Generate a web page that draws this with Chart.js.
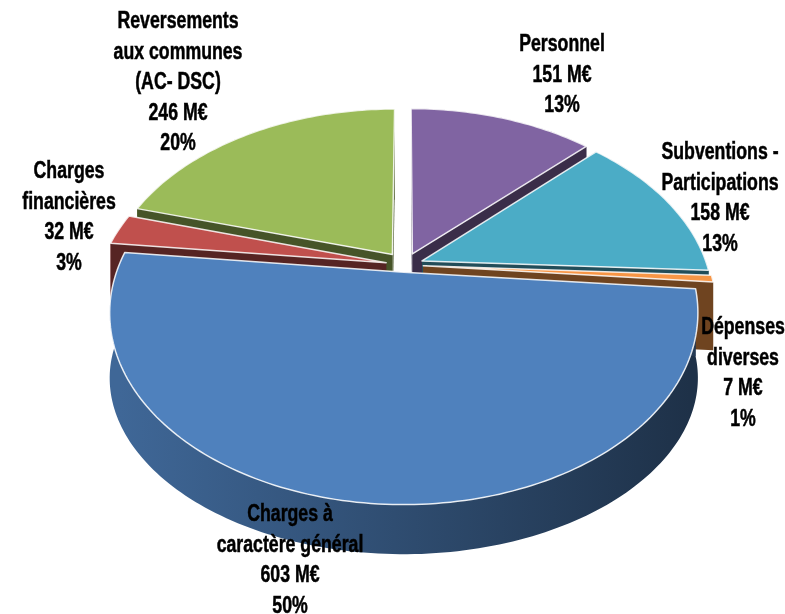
<!DOCTYPE html>
<html>
<head>
<meta charset="utf-8">
<script src="https://cdn.jsdelivr.net/npm/chart.js@4"></script>
<style>
  html, body { margin: 0; background: #fff; }
  #wrap { width: 785px; height: 614px; }
</style>
</head>
<body>
<div id="wrap"><canvas id="pie" width="785" height="614"></canvas></div>
<script>
// data (clockwise from the top)
const categories = [['Personnel'], ['Subventions -', 'Participations'], ['Dépenses', 'diverses'],
  ['Charges à', 'caractère général'], ['Charges', 'financières'], ['Reversements', 'aux communes', '(AC- DSC)']];
const amounts = [151, 158, 7, 603, 32, 246];
const percents = [13, 13, 1, 50, 3, 20];

const colors = ['#8064A2', '#4BACC6', '#F79646', '#4F81BD', '#C0504D', '#9BBB59'];
const explode = [20, 19, 19, 12, 20, 22];
// centre of the first line of each label
const labelAnchors = [[562, 45], [720, 153], [743, 328], [290, 515], [69, 172], [178, 22]];
const lineHeight = 30.5;

// tilted view of the pie (perspective); the side gets thinner towards the front
const view = { cx: 405, cy: 265, a: 285, b: 180, k: 0.21, h: 70, c: 0.28 };

function project(x, z, down) {
  const w = 1 - view.k * z;
  const drop = down ? view.h * (1 - view.c * z) : 0;
  return [view.cx + view.a * x / w, view.cy + view.b * z / w + drop];
}

function shade(hex, f) {
  const n = parseInt(hex.slice(1), 16);
  const r = Math.round(((n >> 16) & 255) * f);
  const g = Math.round(((n >> 8) & 255) * f);
  const b = Math.round((n & 255) * f);
  return `rgb(${r},${g},${b})`;
}

function poly(ctx, pts, fill, stroke) {
  ctx.beginPath();
  ctx.moveTo(pts[0][0], pts[0][1]);
  for (let i = 1; i < pts.length; i++) ctx.lineTo(pts[i][0], pts[i][1]);
  ctx.closePath();
  ctx.fillStyle = fill;
  ctx.fill();
  if (stroke) {
    ctx.strokeStyle = stroke;
    ctx.lineWidth = 1.5;
    ctx.lineJoin = 'round';
    ctx.stroke();
  }
}

function drawSlice(ctx, arc, color) {
  const s = arc.startAngle, e = arc.endAngle, m = (s + e) / 2;
  const d = arc.options.offset / arc.outerRadius;
  const ox = d * Math.cos(m), oz = d * Math.sin(m);
  const steps = Math.max(2, Math.ceil((e - s) / 0.02));
  const rim = [];
  for (let j = 0; j <= steps; j++) {
    const t = s + (e - s) * j / steps;
    rim.push([ox + Math.cos(t), oz + Math.sin(t)]);
  }
  const first = rim[0], last = rim[rim.length - 1];

  // outer wall
  const wall = rim.map(p => project(p[0], p[1]))
    .concat(rim.slice().reverse().map(p => project(p[0], p[1], true)));
  const grad = ctx.createLinearGradient(view.cx - view.a, 0, view.cx + view.a, 0);
  grad.addColorStop(0, shade(color, 0.8));
  grad.addColorStop(1, shade(color, 0.38));
  poly(ctx, wall, grad);

  // cut faces
  poly(ctx, [project(ox, oz), project(first[0], first[1]), project(first[0], first[1], true), project(ox, oz, true)], shade(color, 0.45));
  poly(ctx, [project(ox, oz), project(last[0], last[1]), project(last[0], last[1], true), project(ox, oz, true)], shade(color, 0.45));

  // top
  const top = [project(ox, oz)].concat(rim.map(p => project(p[0], p[1])));
  poly(ctx, top, color, 'rgba(255,255,255,0.85)');
}

const pie3d = {
  id: 'pie3d',
  beforeDatasetsDraw(chart) {
    const ctx = chart.ctx;
    const arcs = chart.getDatasetMeta(0).data;
    const mid = a => Math.sin((a.startAngle + a.endAngle) / 2);
    const order = arcs.map((a, i) => i).sort((p, q) => mid(arcs[p]) - mid(arcs[q]));
    ctx.save();
    order.forEach(i => drawSlice(ctx, arcs[i], colors[i]));
    ctx.restore();
    return false;
  },
  afterDraw(chart) {
    const ctx = chart.ctx;
    ctx.save();
    ctx.font = 'bold 23px "Liberation Sans", Arial, sans-serif';
    ctx.fillStyle = '#000';
    ctx.strokeStyle = '#000';
    ctx.lineWidth = 0.5;
    ctx.textAlign = 'center';
    ctx.textBaseline = 'middle';
    categories.forEach((lines, i) => {
      const all = lines.concat([amounts[i] + ' M€', percents[i] + '%']);
      const [x, y] = labelAnchors[i];
      all.forEach((t, j) => {
        ctx.save();
        ctx.translate(x, y + j * lineHeight);
        ctx.scale(0.77, 1); // narrow, Calibri-like lettering
        ctx.fillText(t, 0, 0);
        ctx.strokeText(t, 0, 0);
        ctx.restore();
      });
    });
    ctx.restore();
  }
};

new Chart(document.getElementById('pie'), {
  type: 'pie',
  data: {
    labels: categories,
    datasets: [{
      data: amounts,
      backgroundColor: colors,
      offset: explode,
      borderWidth: 0
    }]
  },
  options: {
    responsive: false,
    animation: false,
    events: [],
    rotation: 0,
    plugins: {
      legend: { display: false },
      tooltip: { enabled: false }
    }
  },
  plugins: [pie3d]
});
</script>
</body>
</html>
